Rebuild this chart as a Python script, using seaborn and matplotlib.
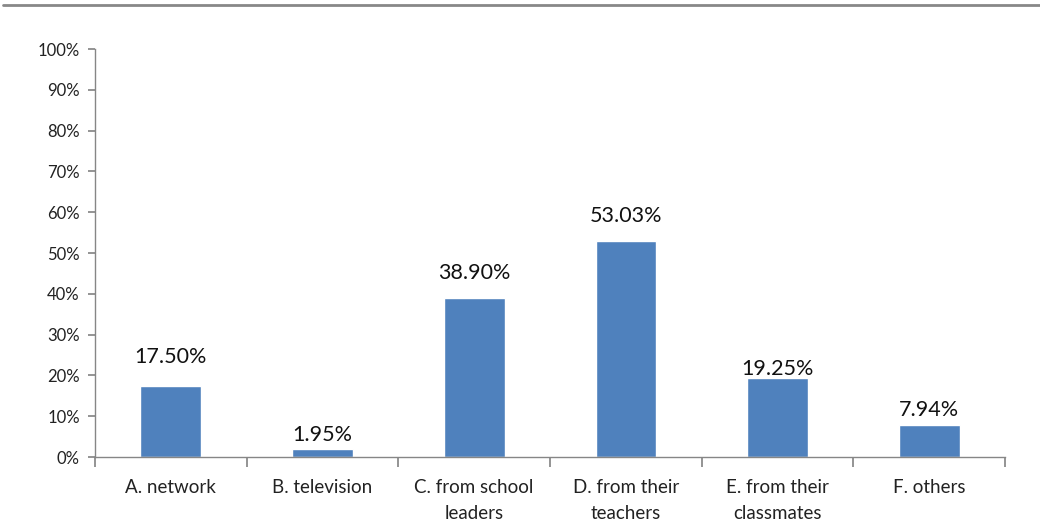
import matplotlib
matplotlib.use("Agg")
import matplotlib.pyplot as plt
import matplotlib.lines as mlines
from matplotlib.ticker import FuncFormatter, MultipleLocator
import seaborn as sns
import pandas as pd

categories = ["A. network", "B. television", "C. from school\nleaders",
              "D. from their\nteachers", "E. from their\nclassmates", "F. others"]
values = [17.50, 1.95, 38.90, 53.03, 19.25, 7.94]
value_labels = ["17.50%", "1.95%", "38.90%", "53.03%", "19.25%", "7.94%"]
label_offsets = [20.5, 10, 18, 17.7, 7, 10.5]  # points above bar top (style)

sns.set_theme(style="white")
plt.rcParams["font.family"] = ["Lato", "DejaVu Sans"]

df = pd.DataFrame({"cat": categories, "val": values})

fig = plt.figure(figsize=(10.4, 5.3), dpi=100)
ax = fig.add_axes([95/1040, 1 - 457/530, (1005 - 95)/1040, (457 - 49)/530])

sns.barplot(data=df, x="cat", y="val", color="#4F81BD", width=0.4,
            saturation=1, ax=ax)

ax.set_ylim(0, 100)
ax.set_xlim(-0.5, len(categories) - 0.5)
ax.yaxis.set_major_locator(MultipleLocator(10))
ax.yaxis.set_major_formatter(FuncFormatter(lambda v, p: f"{int(v)}%"))
ax.set_xlabel("")
ax.set_ylabel("")

for i, (v, lab, off) in enumerate(zip(values, value_labels, label_offsets)):
    ax.annotate(lab, (i, v), xytext=(0, off), textcoords="offset points",
                ha="center", va="center", fontsize=15.5, color="#111111")

spine_c = "#868686"
for s in ["top", "right"]:
    ax.spines[s].set_visible(False)
for s in ["left", "bottom"]:
    ax.spines[s].set_color(spine_c)
    ax.spines[s].set_linewidth(1.0)

# x ticks at category boundaries, labels at centers
ax.set_xticks([i + 0.5 for i in range(-1, len(categories))], minor=False)
ax.set_xticklabels([""] * (len(categories) + 1))
ax.set_xticks(range(len(categories)), minor=True)
ax.set_xticklabels(categories, minor=True, fontsize=13.5, color="#222222",
                   linespacing=1.65, va="top")
ax.tick_params(axis="x", which="major", direction="out", length=7,
               color=spine_c, bottom=True)
ax.tick_params(axis="x", which="minor", length=0, pad=16)
ax.tick_params(axis="y", direction="out", length=5, color=spine_c, left=True,
               labelsize=12, labelcolor="#222222", pad=6)

fig.add_artist(mlines.Line2D([3/1040, 1.0], [1 - 5/530, 1 - 5/530],
                             color="#888888", linewidth=2.0,
                             transform=fig.transFigure))

fig.savefig("out.png", dpi=100, facecolor="white")
